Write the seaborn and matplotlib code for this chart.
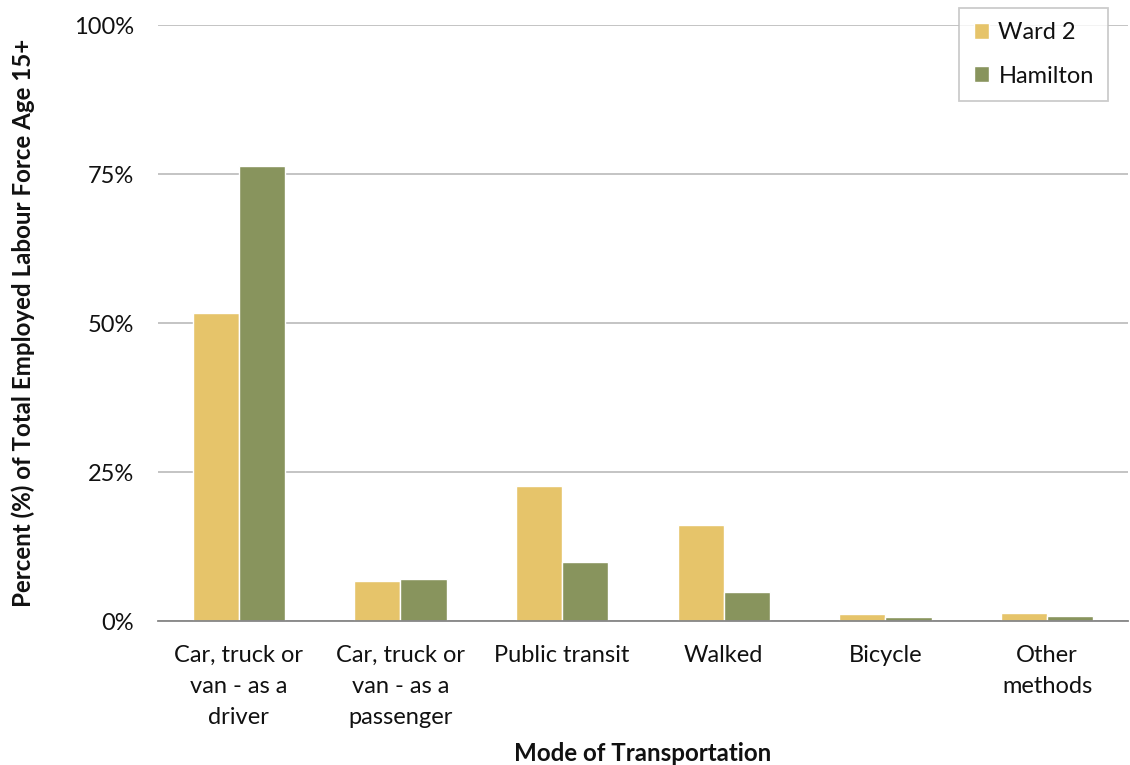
import numpy as np
import pandas as pd
import seaborn as sns
import matplotlib.pyplot as plt
from matplotlib.ticker import PercentFormatter

categories = ["Car, truck or\nvan - as a\ndriver", "Car, truck or\nvan - as a\npassenger",
              "Public transit", "Walked", "Bicycle", "Other\nmethods"]
ward2 = [51.7, 6.8, 22.7, 16.1, 1.1, 1.35]
hamilton = [76.3, 7.1, 9.9, 4.9, 0.7, 0.9]
series = ["Ward 2", "Hamilton"]
colors = ["#E6C46A", "#88945D"]

df = pd.DataFrame({
    "mode": categories * 2,
    "value": ward2 + hamilton,
    "area": [series[0]] * len(categories) + [series[1]] * len(categories),
})

sns.set_style("white")
plt.rcParams["font.family"] = ["Lato", "DejaVu Sans"]

fig = plt.figure(figsize=(11.3, 7.65), dpi=100)
ax = fig.add_axes([0.1398, 0.1882, 0.8584, 0.779])

sns.barplot(data=df, x="mode", y="value", hue="area", palette=colors,
            width=0.57, saturation=1, ax=ax, legend=True)

ax.set_ylim(0, 100)
ax.set_xlim(-0.5, len(categories) - 0.5)
ax.set_yticks([0, 25, 50, 75, 100])
ax.yaxis.set_major_formatter(PercentFormatter(decimals=0))
ax.grid(axis="y", color="#BFBFBF", linewidth=1.3)
ax.set_axisbelow(True)

for side in ["left", "right", "top"]:
    ax.spines[side].set_visible(False)
ax.spines["bottom"].set_color("#868686")
ax.spines["bottom"].set_linewidth(1.3)

ax.tick_params(axis="y", length=0, labelsize=17, pad=17, colors="#111111")
ax.tick_params(axis="x", which="major", length=0, labelsize=17, pad=17, colors="#111111")
for lbl in ax.get_xticklabels():
    lbl.set_linespacing(1.6)
ax.set_xticks(np.arange(-0.5, len(categories), 1), minor=True)
ax.tick_params(axis="x", which="minor", length=7, width=1.3, color="#868686")

ax.set_xlabel("Mode of Transportation", fontsize=17.4, fontweight="bold", labelpad=10,
              color="#111111")
ax.set_ylabel("Percent (%) of Total Employed Labour Force Age 15+", fontsize=17.4,
              fontweight="bold", labelpad=28, color="#111111")

leg = ax.legend(loc="upper right", bbox_to_anchor=(0.9805, 0.9895),
                bbox_transform=fig.transFigure, fontsize=17, frameon=True,
                fancybox=False, edgecolor="#BFBFBF", labelspacing=0.95,
                handlelength=0.65, handleheight=0.65, handletextpad=0.4,
                borderpad=0.6, borderaxespad=0, title=None)
leg.get_frame().set_linewidth(1.3)
for t in leg.get_texts():
    t.set_color("#111111")

fig.savefig("out.png", dpi=100)
